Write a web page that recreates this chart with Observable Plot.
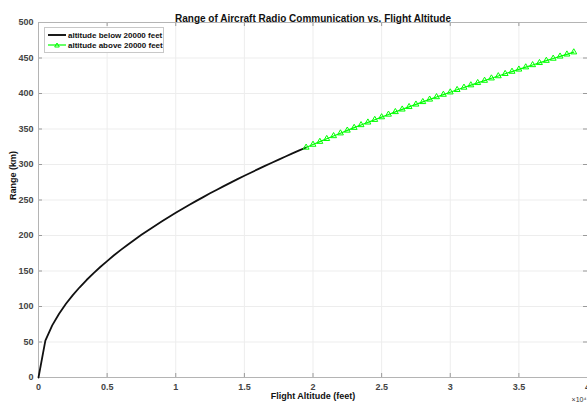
<!DOCTYPE html>
<html><head><meta charset="utf-8">
<script src="https://cdn.jsdelivr.net/npm/d3@7"></script>
<script src="https://cdn.jsdelivr.net/npm/@observablehq/plot@0.6"></script>
<style>
body{margin:0;background:#fff;font-family:"Liberation Sans",Arial,sans-serif;}
#wrap{position:relative;width:587px;height:403px;}
#legend{position:absolute;left:44px;top:27px;width:118px;height:24px;border:1px solid #c8c8c8;background:#fff;font:bold 8px "Liberation Sans",Arial,sans-serif;color:#111;}
#legend .row{position:absolute;left:3px;display:flex;align-items:center;height:10px;}
#legend svg{margin-right:2px;}
</style></head>
<body><div id="wrap"><div id="chart"></div>
<div id="legend">
<div class="row" style="top:2px"><svg width="18" height="10"><line x1="0" y1="5" x2="18" y2="5" stroke="#000" stroke-width="1.8"/></svg>altitude below 20000 feet</div>
<div class="row" style="top:12px"><svg width="18" height="10"><line x1="0" y1="5" x2="18" y2="5" stroke="#00ff00" stroke-width="1.2"/><path d="M9,3 L11.3,7 L6.7,7 Z" fill="none" stroke="#00ff00" stroke-width="1"/></svg>altitude above 20000 feet</div>
</div></div>
<script>
const title = "Range of Aircraft Radio Communication vs. Flight Altitude";
const xLabel = "Flight Altitude (feet)";
const yLabel = "Range (km)";
const xTicks = [0,5000,10000,15000,20000,25000,30000,35000,40000];
const yTicks = [0,50,100,150,200,250,300,350,400,450,500];

const altBelow = [0,500,1000,1500,2000,2500,3000,3500,4000,4500,5000,5500,6000,6500,7000,7500,8000,8500,9000,9500,10000,10500,11000,11500,12000,12500,13000,13500,14000,14500,15000,15500,16000,16500,17000,17500,18000,18500,19000,19500];
const rangeBelow = [0,51.9,73.4,89.9,103.8,116.0,127.1,137.3,146.7,155.6,164.0,172.1,179.7,187.0,194.1,200.9,207.5,213.9,220.1,226.1,232.0,237.7,243.3,248.8,254.1,259.4,264.5,269.6,274.5,279.4,284.1,288.8,293.5,298.0,302.5,306.9,311.3,315.6,319.8,324.0];
const altAbove = [19500,20000,20500,21000,21500,22000,22500,23000,23500,24000,24500,25000,25500,26000,26500,27000,27500,28000,28500,29000,29500,30000,30500,31000,31500,32000,32500,33000,33500,34000,34500,35000,35500,36000,36500,37000,37500,38000,38500,39000];
const rangeAbove = [324.0,328.1,332.2,336.2,340.2,344.1,348.0,351.9,355.7,359.4,363.1,366.8,370.5,374.1,377.7,381.2,384.7,388.2,391.7,395.1,398.5,401.8,405.2,408.5,411.8,415.0,418.2,421.5,424.6,427.8,430.9,434.0,437.1,440.2,443.2,446.3,449.3,452.3,455.2,458.2];

const below = altBelow.map((a,i)=>({alt:a, range:rangeBelow[i]}));
const above = altAbove.map((a,i)=>({alt:a, range:rangeAbove[i]}));

const W=587,H=403,mT=22,mB=26,mL=38,mR=0;
const ph = H-mT-mB, pw = W-mL-mR;
const tickCol="#9a9a9a";
const chart = Plot.plot({
  width:W,height:H,marginTop:mT,marginBottom:mB,marginLeft:mL,marginRight:mR,
  style:{fontFamily:"'Liberation Sans',Arial,sans-serif",background:"#fff",overflow:"visible"},
  x:{domain:[0,40000],ticks:xTicks},
  y:{domain:[0,500],ticks:yTicks},
  marks:[
    Plot.gridX(xTicks,{stroke:"#ededed",strokeOpacity:1}),
    Plot.gridY(yTicks,{stroke:"#ededed",strokeOpacity:1}),
    Plot.tickX(xTicks,{x:d=>d,insetTop:ph-4,stroke:tickCol}),
    Plot.tickX(xTicks,{x:d=>d,insetBottom:ph-4,stroke:tickCol}),
    Plot.tickY(yTicks,{y:d=>d,insetRight:pw-4,stroke:tickCol}),
    Plot.tickY(yTicks,{y:d=>d,insetLeft:pw-4,stroke:tickCol}),
    Plot.frame({stroke:"#b4b4b4"}),
    Plot.axisX(xTicks,{tickSize:0,tickPadding:6,label:null,fontSize:9,fontWeight:"bold",fill:"#444",tickFormat:d=>String(d/1e4)}),
    Plot.axisY(yTicks,{tickSize:0,tickPadding:5,label:null,fontSize:9,fontWeight:"bold",fill:"#444"}),
    Plot.line(below,{x:"alt",y:"range",stroke:"#111",strokeWidth:1.8}),
    Plot.line(above,{x:"alt",y:"range",stroke:"#00ff00",strokeWidth:1.2}),
    Plot.dot(above,{x:"alt",y:"range",symbol:"triangle",r:2.2,fill:"none",stroke:"#00ff00",strokeWidth:1}),
    Plot.text([title],{frameAnchor:"top",dy:-8,fontSize:10,fontWeight:"bold",fill:"#111"}),
    Plot.text([xLabel],{frameAnchor:"bottom",dy:21,fontSize:9,fontWeight:"bold",fill:"#111"}),
    Plot.text([yLabel],{frameAnchor:"left",dx:-25,rotate:-90,fontSize:9,fontWeight:"bold",fill:"#111"}),
    Plot.text(["×10⁴"],{frameAnchor:"bottom-right",dx:-1,dy:24,textAnchor:"end",fontSize:7,fill:"#333"})
  ]
});
document.getElementById("chart").appendChild(chart);
</script></body></html>
